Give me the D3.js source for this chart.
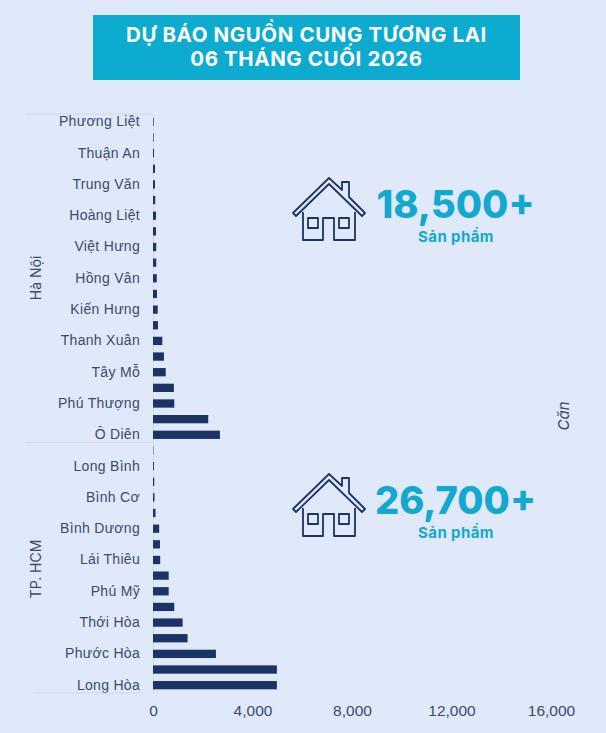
<!DOCTYPE html>
<html lang="vi">
<head>
  <meta charset="UTF-8">
  <title>Dự báo nguồn cung tương lai</title>
  <style>
    body {
      margin: 0;
      padding: 0;
      background-color: #dfe9f9;
    }

    svg {
      display: block;
      font-family: Inter, "Open Sans", sans-serif;
    }

    .axis text {
      fill: #3b4b6e;
    }
  </style>
</head>
<body>
  <svg id="chart" width="606" height="733"></svg>
  <script src="https://d3js.org/d3.v7.min.js"></script>
  <script>
    // Rows with an empty name have a bar but no label in the picture
    const hanoiNames = ['Phương Liệt', '', 'Thuận An', '', 'Trung Văn', '', 'Hoàng Liệt', '', 'Việt Hưng', '', 'Hồng Vân', '', 'Kiến Hưng', '', 'Thanh Xuân', '', 'Tây Mỗ', '', 'Phú Thượng', '', 'Ô Diên'];
    const hanoiValues = [25, 25, 40, 80, 80, 90, 120, 120, 130, 130, 150, 160, 190, 200, 375, 440, 510, 840, 855, 2220, 2690];

    const hcmNames = ['', 'Long Bình', '', 'Bình Cơ', '', 'Bình Dương', '', 'Lái Thiêu', '', 'Phú Mỹ', '', 'Thới Hòa', '', 'Phước Hòa', '', 'Long Hòa'];
    const hcmValues = [15, 35, 50, 60, 100, 250, 280, 290, 630, 630, 855, 1190, 1390, 2530, 4980, 4980];

    const xTicks = [0, 4000, 8000, 12000, 16000];

    const names = hanoiNames.concat(hcmNames);
    const values = hanoiValues.concat(hcmValues);

    const svg = d3.select('#chart');

    const xScale = d3.scaleLinear().domain([0, 16000]).range([153, 551]);
    const yScale = d3.scaleBand()
      .domain(d3.range(values.length))
      .range([114, 693])
      .paddingInner(0.47)
      .paddingOuter(0.235);

    // Title banner
    svg.append('rect')
      .attr('x', 93).attr('y', 15)
      .attr('width', 427).attr('height', 65)
      .attr('fill', '#0dabd0');

    svg.selectAll('.title')
      .data([['DỰ BÁO NGUỒN CUNG TƯƠNG LAI', 42], ['06 THÁNG CUỐI 2026', 66]])
      .enter()
      .append('text')
      .attr('class', 'title')
      .attr('x', 306.5)
      .attr('y', d => d[1])
      .attr('text-anchor', 'middle')
      .attr('fill', '#fff')
      .style('font-size', '20.5px')
      .style('letter-spacing', '0.6px')
      .style('font-weight', 700)
      .text(d => d[0]);

    // Axes
    const yAxis = d3.axisLeft(yScale)
      .tickSize(0)
      .tickPadding(13)
      .tickFormat(i => names[i]);

    const yGroup = svg.append('g')
      .attr('class', 'axis')
      .attr('transform', `translate(${xScale(0)}, 0)`)
      .call(yAxis);
    yGroup.select('.domain').attr('stroke', '#d5d9df').attr('stroke-width', 1);
    yGroup.selectAll('text')
      .style('font-size', '14px')
      .style('letter-spacing', '0.3px');

    const xAxis = d3.axisBottom(xScale)
      .tickValues(xTicks)
      .tickSize(0)
      .tickPadding(12)
      .tickFormat(d3.format(','));

    const xGroup = svg.append('g')
      .attr('class', 'axis')
      .attr('transform', 'translate(0, 693)')
      .call(xAxis);
    xGroup.select('.domain').remove();
    xGroup.selectAll('text').style('font-size', '15.5px');

    // Bars, on top of the axis line so the thin ones still show
    svg.selectAll('.bar')
      .data(values)
      .enter()
      .append('rect')
      .attr('class', 'bar')
      .attr('x', xScale(0))
      .attr('y', (d, i) => yScale(i))
      .attr('width', d => xScale(d) - xScale(0))
      .attr('height', yScale.bandwidth())
      .attr('fill', '#1c3365');

    // Group separators
    const groupEdges = [[114, 25], [442.5, 25], [693, 33]];
    svg.selectAll('.sep')
      .data(groupEdges)
      .enter()
      .append('line')
      .attr('class', 'sep')
      .attr('x1', d => d[1])
      .attr('x2', (d, i) => i === 2 ? 143 : 153)
      .attr('y1', d => d[0])
      .attr('y2', d => d[0])
      .attr('stroke', '#d5d9df')
      .attr('stroke-width', 1);

    // Group and unit labels
    function rotatedLabel(text, x, y, size, italic) {
      svg.append('text')
        .attr('transform', `translate(${x}, ${y}) rotate(-90)`)
        .attr('text-anchor', 'middle')
        .attr('fill', '#3b4b6e')
        .style('font-size', size + 'px')
        .style('font-style', italic ? 'italic' : 'normal')
        .text(text);
    }
    rotatedLabel('Hà Nội', 41, 278, 14, false);
    rotatedLabel('TP. HCM', 41, 569, 14, false);
    rotatedLabel('Căn', 569, 416, 15, true);

    // House icon and big number
    function callout(total, y0) {
      const g = svg.append('g').attr('transform', `translate(292, ${y0})`);
      const icon = g.append('g')
        .attr('fill', 'none')
        .attr('stroke', '#1c3365')
        .attr('stroke-width', 1.8)
        .attr('stroke-linejoin', 'round');
      icon.append('path').attr('d', 'M1,36 L37,1 L50,13 V5 H57 V20 L73,36 L70,39 L37,7 L4,39 Z');
      icon.append('path').attr('d', 'M11,35 V63 H31 V41 H42 V63 H63 V35');
      icon.append('path').attr('d', 'M16,41 H26 V51 H16 Z');
      icon.append('path').attr('d', 'M47,41 H57 V51 H47 Z');

      g.append('text')
        .attr('x', 163.5).attr('y', 41)
        .attr('text-anchor', 'middle')
        .attr('fill', '#12a8cf')
        .style('font-size', '38px')
        .style('font-weight', 800)
        .text(total);
      g.append('text')
        .attr('x', 164).attr('y', 65)
        .attr('text-anchor', 'middle')
        .attr('fill', '#12a8cf')
        .style('font-size', '15px')
        .style('letter-spacing', '0.4px')
        .style('font-weight', 700)
        .text('Sản phẩm');
    }
    callout('18,500+', 177);
    callout('26,700+', 473);
  </script>
</body>
</html>
